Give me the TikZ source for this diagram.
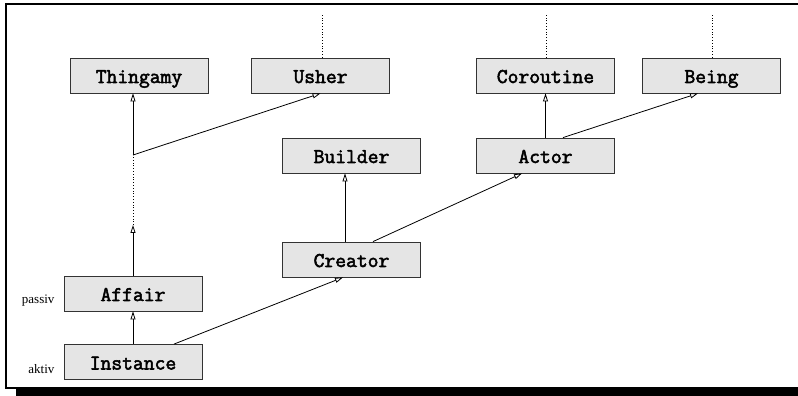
\documentclass[tikz,border=0pt]{standalone}
\usepackage{fontspec}
\setmainfont{Liberation Serif}
\newfontfamily\boxfont[FakeBold=2.5]{Latin Modern Mono}
\usetikzlibrary{arrows.meta}
\begin{document}
\begin{tikzpicture}[x=1pt,y=1pt,
  cls/.style={draw=black!80, fill=black!10, line width=0.8pt, minimum width=138pt, minimum height=35pt,
    inner sep=0pt, text height=15pt, text depth=0pt,
    font=\boxfont\fontsize{21}{21}\selectfont},
  inh/.style={line width=0.8pt, -{Triangle[open,length=8pt,width=5pt]}},
  more/.style={line width=0.8pt, dotted},
  side/.style={anchor=base east, font=\fontsize{13}{13}\selectfont}]
\useasboundingbox (0,0) rectangle (798,396);
% frame with its drop shadow
\fill[black] (16,0) rectangle (805,7);
\draw[line width=1.2pt, fill=white] (6,8) rectangle (804,392);

% classes
\node[cls] (thing) at (139,320.5) {Thingamy};
\node[cls] (usher) at (320.5,320.5) {Usher};
\node[cls] (corou) at (545.5,320.5) {Coroutine};
\node[cls] (being) at (711.5,320.5) {Being};
\node[cls] (build) at (351.5,240.5) {Builder};
\node[cls] (actor) at (545.5,240.5) {Actor};
\node[cls] (creat) at (351.5,136.5) {Creator};
\node[cls] (affair) at (133,102.5) {Affair};
\node[cls] (inst) at (133,34) {Instance};

\node[side] (lpas) at (58,92) {passiv};
\node[side] (lakt) at (58,22) {aktiv};

% free ends
\coordinate (gap) at (133,171);
\coordinate (join) at (133,241);
\coordinate (utop) at (322,381);
\coordinate (ctop) at (546,381);
\coordinate (btop) at (712,381);

% inheritance
\draw[inh] (inst.north) -- (affair.south);
\draw[inh] (affair.north) -- (gap);
\draw[more] (gap) -- (join);
\draw[inh] (join) -- (join |- thing.south);
\draw[inh] (join) -- (usher.south);
\draw[inh] ([xshift=41pt]inst.north) -- ([xshift=-8.5pt]creat.south);
\draw[inh] ([xshift=-6.5pt]creat.north) -- ([xshift=-6.5pt]build.south);
\draw[inh] ([xshift=21.5pt]creat.north) -- ([xshift=-23.5pt]actor.south);
\draw[inh] (actor.north) -- (corou.south);
\draw[inh] ([xshift=17.5pt]actor.north) -- ([xshift=-13.5pt]being.south);

% further ancestors
\draw[more] (usher.north -| utop) -- (utop);
\draw[more] (corou.north -| ctop) -- (ctop);
\draw[more] (being.north -| btop) -- (btop);
\end{tikzpicture}
\end{document}
